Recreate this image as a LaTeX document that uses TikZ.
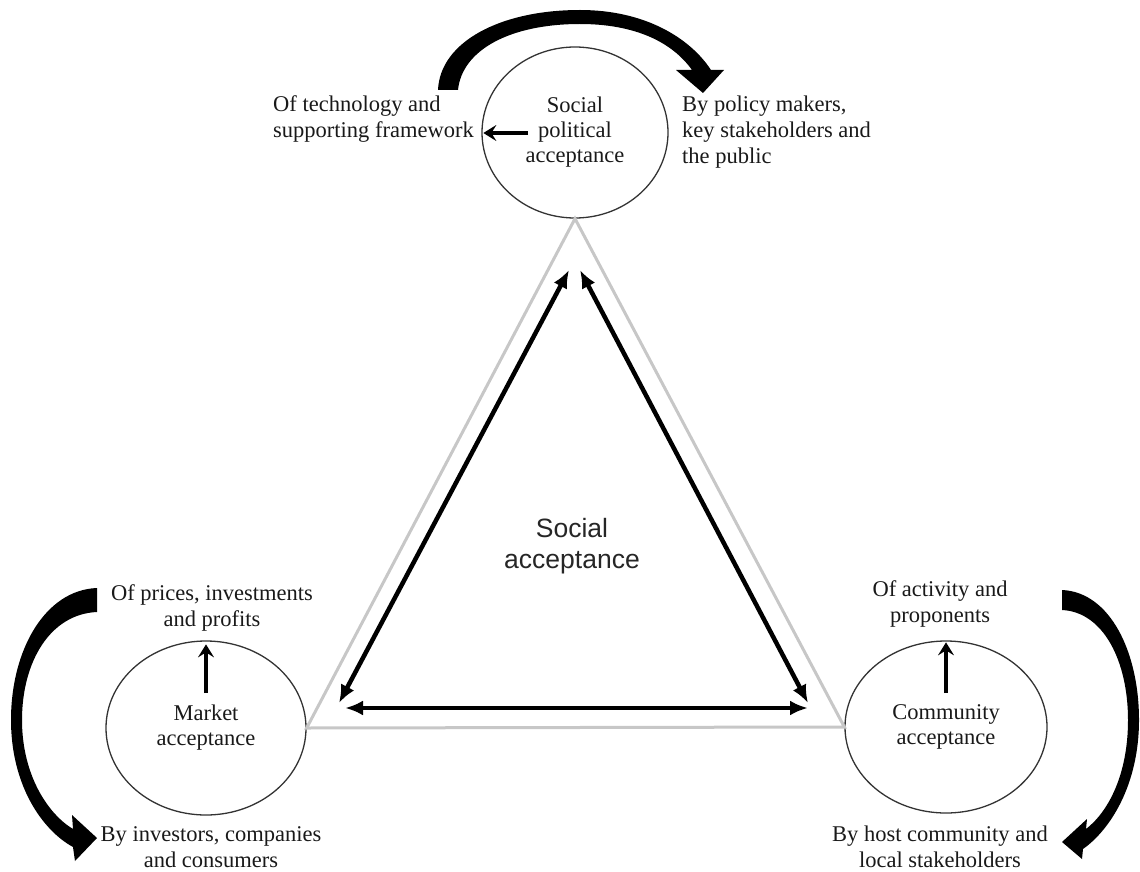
\documentclass[tikz,border=0pt]{standalone}
\usepackage{fontspec}
\setmainfont{Liberation Serif}
\newfontfamily\sanslabel{Liberation Sans}
\usetikzlibrary{arrows.meta,shapes.geometric}

\tikzset{
  testo/.style={font=\fontsize{22.5}{26}\selectfont, inner sep=0pt, text=black!90},
  cerchio/.style={ellipse, draw=black!80, line width=1.3pt, font=\fontsize{22.5}{25}\selectfont,
    align=center, inner sep=0pt, text=black!90},
  lato/.style={draw=black!22, line width=3pt},
  doppia/.style={line width=4.5pt, {Latex[length=18pt,width=15pt]}-{Latex[length=18pt,width=15pt]}},
  freccina/.style={line width=3.2pt, -{Stealth[length=13pt,width=16pt,inset=5pt]}}
}

\begin{document}
\begin{tikzpicture}[x=1pt,y=-1pt]
        \useasboundingbox (0,0) rectangle (1140,872);
        %i tre cerchi
        \node[cerchio, minimum width=186, minimum height=171] (pol) at (575,132.5) {Social\\political\\acceptance};
        \node[cerchio, minimum width=200, minimum height=174] (mkt) at (206,728) {Market\\acceptance};
        \node[cerchio, minimum width=202, minimum height=172] (com) at (946,727) {Community\\acceptance};
        %triangolo grigio
        \draw[lato] (pol.south) -- (mkt.east) -- (com.west) -- cycle;
        %frecce doppie interne
        \coordinate (lt) at (569,270);
        \coordinate (lb) at (339,703);
        \coordinate (rt) at (580,270);
        \coordinate (rb) at (808,703);
        \coordinate (bl) at (345,708);
        \coordinate (br) at (808,708);
        \draw[doppia] (lb) -- (lt);
        \draw[doppia] (rt) -- (rb);
        \draw[doppia] (bl) -- (br);
        \node[font=\sanslabel\fontsize{26.5}{31}\selectfont, align=center, inner sep=0pt, text=black!85] (soc) at (572,546) {Social\\acceptance};
        %testi esterni
        \node[testo, align=left, anchor=west] (tech) at (273,119.5) {Of technology and\\supporting framework};
        \node[testo, align=left, anchor=west] (policy) at (682,132.5) {By policy makers,\\key stakeholders and\\the public};
        \node[testo, align=center] (prices) at (212,608) {Of prices, investments\\and profits};
        \node[testo, align=center] (invest) at (211,847) {By investors, companies\\and consumers};
        \node[testo, align=center] (activ) at (940,604) {Of activity and\\proponents};
        \node[testo, align=center] (host) at (940,847) {By host community and\\local stakeholders};
        %frecce piccole
        \coordinate (poltail) at (528,133);
        \coordinate (mkttail) at (206,693);
        \coordinate (comtail) at (946,693);
        \draw[freccina, shorten >=2] (poltail) -- (pol.west |- poltail);
        \draw[freccina, shorten >=4] (mkttail) -- (mkt.north);
        \draw[freccina, shorten >=2] (comtail) -- (com.north);
        %frecce curve grandi
        \fill (438,90) .. controls (440,42) and (500,10) .. (580,10) .. controls (645,10) and (690,38) .. (711,70)
          -- (724,70) -- (703,93) -- (676,70) -- (692,70)
          .. controls (672,42) and (635,24) .. (580,24) .. controls (510,24) and (462,50) .. (458,90) -- cycle;
        \fill (97,588) .. controls (45,590) and (11,650) .. (11,720) .. controls (11,785) and (42,830) .. (73,847)
          -- (75,861) -- (97,838) -- (72,815) -- (73,829)
          .. controls (48,814) and (22,775) .. (22,720) .. controls (22,662) and (50,614) .. (97,612) -- cycle;
        \fill (1062,590) .. controls (1110,592) and (1139,652) .. (1139,720) .. controls (1139,785) and (1110,830) .. (1083,849)
          -- (1082,859) -- (1062,842) -- (1087,819) -- (1086,829)
          .. controls (1108,812) and (1128,775) .. (1128,720) .. controls (1128,662) and (1104,612) .. (1062,610) -- cycle;
\end{tikzpicture}
\end{document}
